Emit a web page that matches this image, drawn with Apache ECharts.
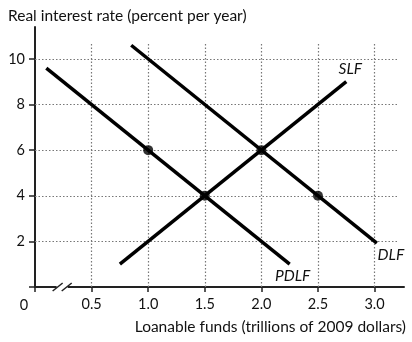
<!DOCTYPE html>
<html><head><meta charset="utf-8">
<script src="https://cdn.jsdelivr.net/npm/echarts@6/dist/echarts.min.js"></script>
<style>html,body{margin:0;padding:0;background:#fff}#c{width:412px;height:342px}</style>
</head><body><div id="c"></div>
<script>
const xTicks = [0.5, 1.0, 1.5, 2.0, 2.5, 3.0];
const yTicks = [2, 4, 6, 8, 10];
const slf = [[0.75, 1], [2.75, 9]];
const dlf = [[0.85, 10.6], [3.02, 1.92]];
const pdlf = [[0.1, 9.6], [2.25, 1.0]];
const points = [[1.0, 6], [1.5, 4], [2.0, 6], [2.5, 4]];
const gridXMax = 3.2, gridYMax = 10.7;

const FONT = 'Lato';
const chart = echarts.init(document.getElementById('c'));
function lineSeries(name, data, labelPos, offset) {
  const d = data.map((p, i) => i === data.length - 1 ? {
    value: p,
    label: {show: true, formatter: name, position: labelPos, offset: offset,
      fontFamily: FONT, fontStyle: 'italic', fontSize: 15.5, color: '#111'}
  } : p);
  return {type: 'line', name, data: d, showSymbol: true, symbol: 'circle', symbolSize: 0,
    lineStyle: {color: '#000', width: 3.5}, itemStyle: {color: 'rgba(0,0,0,0)'}, silent: true, z: 5};
}
const gridLines = [];
yTicks.forEach(v => gridLines.push([{coord: [0, v]}, {coord: [gridXMax, v]}]));
xTicks.forEach(v => gridLines.push([{coord: [v, 0]}, {coord: [v, gridYMax]}]));

chart.setOption({
  animation: false,
  grid: {left: 35, right: 8, top: 27, bottom: 55},
  title: {text: 'Real interest rate (percent per year)', left: 3, top: 3,
    textStyle: {fontFamily: FONT, fontSize: 15.5, fontWeight: 'normal', color: '#111'}},
  xAxis: {type: 'value', min: 0, max: 3.26, interval: 0.5,
    axisLine: {lineStyle: {color: '#222', width: 2}},
    axisTick: {length: 5, lineStyle: {color: '#222', width: 1.5}},
    axisLabel: {fontFamily: FONT, fontSize: 14.5, color: '#111', margin: 10, showMaxLabel: false,
      formatter: v => v === 0 ? '' : v.toFixed(1)},
    splitLine: {show: false}},
  yAxis: {type: 'value', min: 0, max: 11.4, interval: 2,
    axisLine: {show: true, lineStyle: {color: '#222', width: 2}},
    axisTick: {show: true, length: 6, lineStyle: {color: '#222', width: 1.5}},
    axisLabel: {fontFamily: FONT, fontSize: 14.5, color: '#111', margin: 10, showMaxLabel: false,
      formatter: v => v === 0 ? '' : String(v)},
    splitLine: {show: false}},
  series: [
    {type: 'line', data: [], silent: true,
      markLine: {symbol: 'none', silent: true, label: {show: false},
        lineStyle: {color: '#777', type: [1.5, 2], width: 1.2}, data: gridLines}},
    lineSeries('SLF', slf, 'top', [4, 0]),
    lineSeries('DLF', dlf, 'bottom', [14, -1]),
    lineSeries('PDLF', pdlf, 'bottom', [3, -1]),
    {type: 'scatter', data: points, symbol: 'circle', symbolSize: 10,
      itemStyle: {color: '#000'}, silent: true, z: 6}
  ]
});

const o = chart.convertToPixel({gridIndex: 0}, [0, 0]);
const b1 = chart.convertToPixel({gridIndex: 0}, [0.2, 0]);
const b2 = chart.convertToPixel({gridIndex: 0}, [0.28, 0]);
function brk(p) {
  return {type: 'line', shape: {x1: p[0] - 5, y1: p[1] + 4, x2: p[0] + 5, y2: p[1] - 4},
    style: {stroke: '#222', lineWidth: 1.5}, z: 10};
}
chart.setOption({graphic: [
  {type: 'rect', shape: {x: b1[0] - 1, y: b1[1] - 1.5, width: b2[0] - b1[0] + 2, height: 3},
    style: {fill: '#fff'}, z: 9},
  brk(b1), brk(b2),
  {type: 'text', x: o[0] - 11, y: o[1] + 18, style: {text: '0', fontFamily: FONT, fontSize: 14.5,
    fill: '#111', align: 'center', verticalAlign: 'middle'}},
  {type: 'text', right: 6, top: 319, style: {text: 'Loanable funds (trillions of 2009 dollars)',
    fontFamily: FONT, fontSize: 15.5, fill: '#111'}}
]});
</script></body></html>
